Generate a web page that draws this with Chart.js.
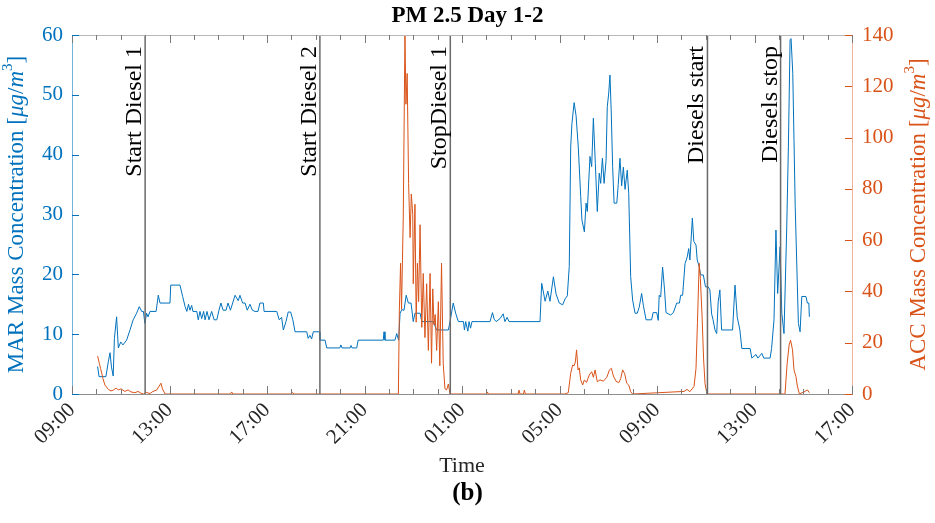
<!DOCTYPE html>
<html lang="en">
<head>
<meta charset="UTF-8">
<title>PM 2.5 Day 1-2</title>
<script src="https://cdn.jsdelivr.net/npm/chart.js"></script>
<style>
  body { margin: 0; background: #fff; }
  canvas { display: block; }
</style>
</head>
<body>
<canvas id="grafico" width="935" height="523"></canvas>
<script>
// time is hours after 09:00 on day 1
const xTickLabels = ['09:00', '13:00', '17:00', '21:00', '01:00', '05:00', '09:00', '13:00', '17:00'];

const marHours = [1.05,1.11,1.39,1.49,1.56,1.62,1.69,1.74,1.83,1.90,2.00,2.09,2.24,2.38,2.51,2.65,2.76,2.86,2.93,2.99,
  3.06,3.12,3.20,3.45,3.54,3.61,4.02,4.05,4.43,4.54,4.64,4.71,4.78,4.84,4.91,4.96,5.12,5.18,5.25,5.32,
  5.40,5.46,5.54,5.62,5.73,5.83,5.94,6.03,6.11,6.20,6.32,6.40,6.50,6.69,6.82,6.89,7.00,7.10,7.19,7.30,
  7.40,7.51,7.63,7.71,7.85,7.88,8.40,8.50,8.60,8.67,8.78,8.87,8.97,9.06,9.15,9.63,9.69,9.76,9.83,9.90,
  10.15,10.17,10.38,10.45,10.99,11.03,11.08,11.41,11.45,11.49,11.68,11.74,12.77,12.80,12.84,13.25,13.32,13.40,13.46,13.53,
  13.62,13.71,13.80,13.91,14.00,14.07,14.28,14.35,14.82,14.96,15.44,15.51,15.64,15.74,15.85,16.06,16.10,16.15,16.24,16.29,
  16.35,16.41,17.15,17.25,17.32,17.40,17.56,17.69,17.76,17.85,17.93,19.20,19.27,19.41,19.52,19.61,19.75,19.86,19.99,20.13,
  20.23,20.32,20.40,20.46,20.51,20.60,20.68,20.77,20.87,20.92,21.02,21.09,21.14,21.25,21.32,21.39,21.47,21.55,21.63,21.69,
  21.76,21.83,21.91,21.96,22.02,22.07,22.12,22.18,22.24,22.35,22.41,22.48,22.55,22.62,22.69,22.78,22.84,22.92,23.00,23.10,
  23.19,23.27,23.37,23.44,23.55,23.78,23.84,23.99,24.05,24.09,24.15,24.23,24.31,24.37,24.56,24.67,24.81,24.92,24.97,25.05,
  25.15,25.24,25.30,25.35,25.45,25.51,25.60,25.65,25.73,25.79,25.90,25.99,26.10,26.17,26.24,26.30,26.38,26.45,26.51,26.58,
  26.65,27.10,27.20,27.29,27.40,27.48,27.82,27.89,28.06,28.14,28.30,28.38,28.64,28.70,28.80,28.88,28.95,29.05,29.12,29.21,
  29.32,29.39,29.46,29.50,29.57,29.62,29.67,29.73,29.80,29.87,29.94,30.11,30.17,30.23,30.25];
const marValues = [4.6,2.9,2.9,5.4,6.9,4.5,3.0,9.3,12.9,7.7,8.7,8.2,9.0,10.7,12.4,13.5,14.6,13.8,13.8,11.8,
  13.5,12.9,13.8,13.8,16.5,15.2,15.2,18.2,18.2,16.3,14.6,13.8,15.0,14.0,14.8,13.8,13.8,12.4,13.8,12.6,
  13.8,12.4,13.8,12.4,13.8,12.4,12.4,14.0,15.2,14.0,14.0,15.2,14.0,16.5,15.6,16.5,15.2,15.2,14.0,15.0,
  14.0,13.8,13.8,15.2,15.2,13.8,13.8,12.4,12.8,10.7,12.1,13.7,13.7,12.4,10.4,10.4,9.3,9.8,9.2,10.4,
  10.4,9.0,9.0,7.7,7.7,8.2,7.7,7.7,8.1,7.7,7.7,9.0,9.0,10.4,9.0,9.0,10.1,9.0,13.5,14.1,
  14.0,16.5,15.2,15.2,12.1,13.5,13.5,12.1,12.1,10.7,10.7,12.1,15.2,13.5,12.1,12.1,10.7,12.1,10.5,12.1,
  11.0,12.1,12.1,13.6,12.5,12.1,12.6,13.4,12.1,12.8,12.1,12.1,18.5,15.5,17.2,15.5,19.6,16.7,15.2,14.9,
  15.9,16.4,21.3,41.3,45.2,48.7,46.5,41.3,33.0,29.1,27.1,31.9,30.5,39.7,38.0,46.1,38.5,30.5,36.9,35.2,
  39.4,35.2,39.0,48.0,50.3,53.3,47.5,38.0,31.9,31.9,35.0,39.4,34.8,37.9,34.2,37.4,33.5,19.6,15.7,13.5,
  13.5,14.5,16.8,14.8,12.4,12.4,13.6,13.6,12.3,16.5,16.2,21.2,17.4,13.6,13.2,13.6,15.2,15.2,16.5,16.5,
  21.8,22.9,24.3,22.4,29.4,25.5,24.9,22.4,21.3,19.9,19.9,17.9,17.9,17.4,13.4,12.4,10.7,10.1,15.4,17.4,
  10.7,10.7,18.2,12.9,10.7,7.6,7.6,6.0,6.6,6.0,6.8,6.0,6.0,7.6,12.4,27.4,16.8,24.6,13.5,10.1,
  27.4,41.3,59.2,59.4,53.6,42.5,31.3,22.4,11.8,10.4,16.3,16.3,15.2,15.2,12.9];

const accHours = [1.05,1.12,1.17,1.22,1.27,1.35,1.49,1.60,1.69,1.81,1.90,2.01,2.17,2.30,2.42,2.58,2.71,2.83,2.93,3.04,
  3.20,3.32,3.47,3.57,3.65,3.71,3.82,6.50,6.55,6.60,9.00,9.05,9.10,13.39,13.43,13.48,13.52,13.59,13.66,13.70,
  13.75,13.81,13.87,13.92,13.98,14.00,14.07,14.12,14.17,14.22,14.28,14.35,14.41,14.48,14.55,14.62,14.69,14.75,14.80,14.85,
  14.90,14.96,15.03,15.09,15.16,15.23,15.30,15.37,15.44,15.51,17.00,17.04,17.08,18.30,18.34,18.38,18.52,18.56,18.60,20.22,
  20.36,20.46,20.54,20.60,20.65,20.70,20.76,20.81,20.87,20.95,21.02,21.11,21.22,21.32,21.39,21.46,21.55,21.66,21.80,21.94,
  22.05,22.13,22.21,22.32,22.43,22.51,22.59,22.67,22.76,22.84,22.92,23.00,25.11,25.23,25.35,25.52,25.60,25.66,25.73,25.78,
  25.85,25.91,25.97,26.05,29.25,29.34,29.42,29.48,29.56,29.62,29.70,29.75,29.84,30.07,30.17,30.25];
const accValues = [14.8,12.0,10.0,8.1,6.0,3.5,1.8,1.2,1.5,2.3,1.6,2.0,1.0,1.6,0.8,0.5,1.0,0.3,0,0.6,
  0.2,1.0,1.5,3.0,4.2,2.0,0,0,0.8,0,0,0.6,0,0,32.8,51,33,69,140,113,
  125,82,61,78,70,43,74,28,51,36,66,26,47,22,43,17,47,12,41,27,
  31,17,36,11,51,12,2,1.6,3.9,0,0,0.8,0,0,1.5,0,0,1.5,0,0,
  0.5,8.1,11.3,11.0,12.5,17.2,9.4,10.2,5.5,3.5,5.5,4.5,7.4,8.7,6.5,9.4,4.8,5.5,5.0,6.5,
  9.4,10.0,7.0,5.0,4.4,6.0,9.4,8.0,4.2,3.5,0.9,0,1.0,1.8,0.9,3,10,28,51,45,
  30,14,4,0,0,12,19.1,21,17.2,9.4,6.8,3.5,0,1.0,1.6,0.5];

const eventHours = [3.0, 10.17, 15.52, 26.07, 29.07];
const eventLabels = ['Start Diesel 1', 'Start Diesel 2', 'StopDiesel 1', 'Diesels start', 'Diesels stop'];

const azul = '#0072BD';
const naranja = '#D95319';
const serif = '"Liberation Serif", "Times New Roman", serif';
Chart.defaults.font.family = serif;

// axis title: plain text + italic unit + superscript 3
function tituloEje(ctx, texto, cx, cy, color) {
  const partes = [
    { t: texto + ' [', f: '23px ' + serif, dy: 0 },
    { t: 'μg', f: 'italic 23px ' + serif, dy: 0 },
    { t: '/', f: '23px ' + serif, dy: 0 },
    { t: 'm', f: 'italic 23px ' + serif, dy: 0 },
    { t: '3', f: '15px ' + serif, dy: -9 },
    { t: ']', f: '23px ' + serif, dy: 0 }
  ];
  ctx.save();
  ctx.translate(cx, cy);
  ctx.rotate(-Math.PI / 2);
  ctx.fillStyle = color;
  ctx.textBaseline = 'middle';
  ctx.textAlign = 'left';
  let total = 0;
  partes.forEach(p => { ctx.font = p.f; p.w = ctx.measureText(p.t).width; total += p.w; });
  let x = -total / 2;
  partes.forEach(p => { ctx.font = p.f; ctx.fillText(p.t, x, p.dy); x += p.w; });
  ctx.restore();
}

const extras = {
  id: 'extras',
  afterDatasetsDraw(chart) {
    const { ctx, chartArea: a, scales: { x } } = chart;
    ctx.save();
    eventHours.forEach((h, i) => {
      const px = x.getPixelForValue(h);
      ctx.strokeStyle = '#6a6a6a';
      ctx.lineWidth = 1.5;
      ctx.beginPath();
      ctx.moveTo(px, a.top);
      ctx.lineTo(px, a.bottom);
      ctx.stroke();
      ctx.save();
      ctx.translate(px - 4, a.top + 11);
      ctx.rotate(-Math.PI / 2);
      ctx.font = '24px ' + serif;
      ctx.fillStyle = '#000';
      ctx.textAlign = 'right';
      ctx.textBaseline = 'alphabetic';
      ctx.fillText(eventLabels[i], 0, 0);
      ctx.restore();
    });
    ctx.restore();
  },
  afterDraw(chart) {
    const { ctx, chartArea: a, scales: { x, y, y2 } } = chart;
    ctx.save();
    ctx.lineWidth = 1;
    // top border
    ctx.strokeStyle = '#b8b8b8';
    ctx.beginPath();
    ctx.moveTo(a.left, a.top + 0.5);
    ctx.lineTo(a.right, a.top + 0.5);
    ctx.stroke();
    // inward ticks on time axis, every hour
    ctx.strokeStyle = '#7a7a7a';
    for (let h = 0; h <= 32; h++) {
      const px = Math.round(x.getPixelForValue(h)) + 0.5;
      const largo = h % 4 === 0 ? 8 : 5;
      ctx.beginPath();
      ctx.moveTo(px, a.bottom);
      ctx.lineTo(px, a.bottom - largo);
      ctx.moveTo(px, a.top);
      ctx.lineTo(px, a.top + largo);
      ctx.stroke();
    }
    ctx.strokeStyle = azul;
    y.ticks.forEach(t => {
      const py = Math.round(y.getPixelForValue(t.value)) + 0.5;
      ctx.beginPath();
      ctx.moveTo(a.left, py);
      ctx.lineTo(a.left + 7, py);
      ctx.stroke();
    });
    ctx.strokeStyle = naranja;
    y2.ticks.forEach(t => {
      const py = Math.round(y2.getPixelForValue(t.value)) + 0.5;
      ctx.beginPath();
      ctx.moveTo(a.right, py);
      ctx.lineTo(a.right - 7, py);
      ctx.stroke();
    });
    ctx.restore();
    tituloEje(ctx, 'MAR Mass Concentration', 17, (a.top + a.bottom) / 2, azul);
    tituloEje(ctx, 'ACC Mass Concentration', 919, (a.top + a.bottom) / 2, naranja);
  }
};

const ctx = document.getElementById('grafico').getContext('2d');
const chart = new Chart(ctx, {
  type: 'line',
  data: {
    datasets: [
      {
        label: 'MAR',
        data: marHours.map((h, i) => ({ x: h, y: marValues[i] })),
        borderColor: azul,
        borderWidth: 1,
        pointRadius: 0,
        tension: 0,
        yAxisID: 'y',
        order: 1
      },
      {
        label: 'ACC',
        data: accHours.map((h, i) => ({ x: h, y: accValues[i] })),
        borderColor: naranja,
        borderWidth: 1,
        pointRadius: 0,
        tension: 0,
        yAxisID: 'y2',
        order: 0
      }
    ]
  },
  options: {
    responsive: false,
    animation: false,
    devicePixelRatio: 1,
    layout: { padding: 0, autoPadding: false },
    plugins: {
      legend: { display: false },
      tooltip: { enabled: false },
      title: {
        display: true,
        text: 'PM 2.5 Day 1-2',
        color: '#000',
        font: { size: 23, weight: 'bold' },
        padding: { top: 2, bottom: 5.4 }
      },
      subtitle: {
        display: true,
        text: '(b)',
        position: 'bottom',
        color: '#000',
        font: { size: 25, weight: 'bold' },
        padding: { top: 0, bottom: 14 }
      }
    },
    scales: {
      x: {
        type: 'linear',
        min: 0,
        max: 32,
        afterFit: s => { s.height = 523 - 35 - 359 - (30 + 14); },
        ticks: {
          stepSize: 4,
          autoSkip: false,
          minRotation: 45,
          maxRotation: 45,
          padding: 4,
          color: '#262626',
          font: { size: 21 },
          callback: v => xTickLabels[v / 4]
        },
        grid: { drawOnChartArea: false, drawTicks: false },
        border: { color: '#8f8f8f' },
        title: {
          display: true,
          text: 'Time',
          color: '#262626',
          font: { size: 22 },
          padding: { top: 0, bottom: 0 }
        }
      },
      y: {
        position: 'left',
        min: 0,
        max: 60,
        afterFit: s => { s.width = 72; },
        ticks: { stepSize: 10, color: azul, padding: 9, font: { size: 21 } },
        grid: { drawOnChartArea: false, drawTicks: false },
        border: { color: 'rgba(0,114,189,0.55)' }
      },
      y2: {
        position: 'right',
        min: 0,
        max: 140,
        afterFit: s => { s.width = 935 - 852; },
        ticks: { stepSize: 20, color: naranja, padding: 10, font: { size: 21 } },
        grid: { drawOnChartArea: false, drawTicks: false },
        border: { color: 'rgba(217,83,25,0.45)' }
      }
    }
  },
  plugins: [extras]
});
</script>
</body>
</html>
